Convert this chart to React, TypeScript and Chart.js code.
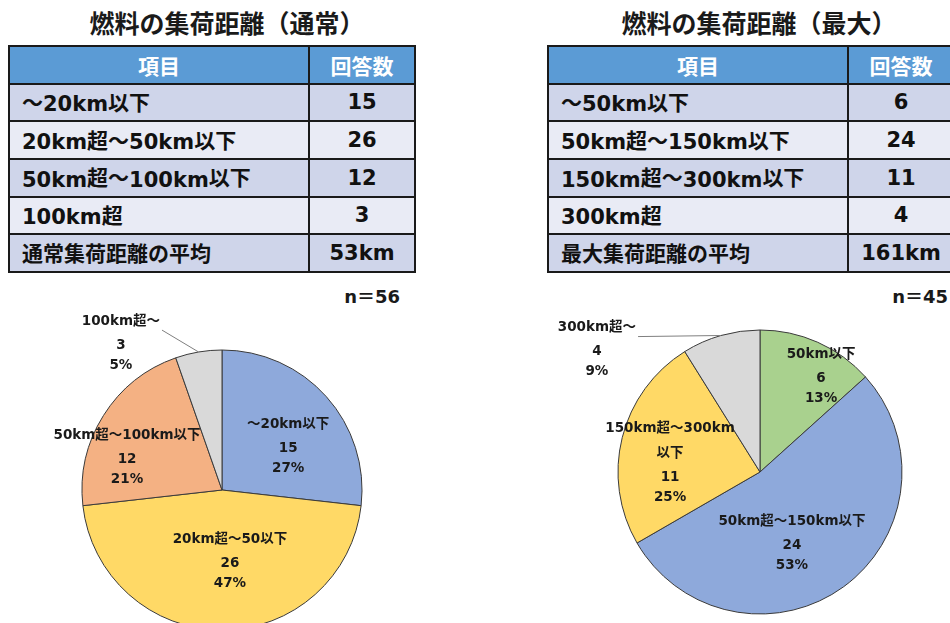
import React, { useEffect, useRef } from 'react';
import { Chart, registerables } from 'chart.js';

Chart.register(...registerables);

const FONT = '"DejaVu Sans", "Noto Sans CJK JP", sans-serif';
const CJK_FONT = '"Noto Sans CJK JP", "Noto Sans", sans-serif';

// ---------- data ----------
const headerItem = '項目';
const headerCount = '回答数';

const normalTitle = '燃料の集荷距離（通常）';
const normalItems = ['～20km以下', '20km超～50km以下', '50km超～100km以下', '100km超'];
const normalCounts = [15, 26, 12, 3];
const normalAvgLabel = '通常集荷距離の平均';
const normalAvg = '53km';
const normalN = 56;
const normalPieNames = [['～20km以下'], ['20km超～50以下'], ['50km超～100km以下'], ['100km超～']];
const normalPct = [27, 47, 21, 5];

const maxTitle = '燃料の集荷距離（最大）';
const maxItems = ['～50km以下', '50km超～150km以下', '150km超～300km以下', '300km超'];
const maxCounts = [6, 24, 11, 4];
const maxAvgLabel = '最大集荷距離の平均';
const maxAvg = '161km';
const maxN = 45;
const maxPieNames = [['50km以下'], ['50km超～150km以下'], ['150km超～300km', '以下'], ['300km超～']];
const maxPct = [13, 53, 25, 9];

// ---------- styles ----------
const normalColors = ['#8EA9DB', '#FFD966', '#F4B183', '#D9D9D9'];
const maxColors = ['#A9D18E', '#8EA9DB', '#FFD966', '#D9D9D9'];

// label placement in polar form: radius factor, angle shift (deg) from slice middle
const normalPlace = [
  { r: 0.564, shift: 8.7 },
  { r: 0.517, shift: -6.3 },
  { r: 0.716, shift: -13.5 },
  { r: 1.274, shift: -24.9, leader: true },
];
const maxPlace = [
  { r: 0.798, shift: 8.6 },
  { r: 0.551, shift: 11.9 },
  { r: 0.637, shift: -8 },
  { r: 1.436, shift: -37.1, leader: true },
];

const pieLabelPlugin = {
  id: 'pieLabels',
  afterDatasetsDraw(chart: any, _args: any, opts: any) {
    const ctx = chart.ctx;
    const meta = chart.getDatasetMeta(0);
    const ds = chart.data.datasets[0];
    ctx.save();
    ctx.font = `bold ${opts.fontSize}px ${FONT}`;
    ctx.fillStyle = '#1a1a1a';
    ctx.textAlign = 'center';
    ctx.textBaseline = 'middle';
    meta.data.forEach((arc: any, i: number) => {
      const p = arc.getProps(['x', 'y', 'startAngle', 'endAngle', 'outerRadius'], true);
      const mid = (p.startAngle + p.endAngle) / 2;
      const pl = opts.place[i];
      const a = mid + (pl.shift * Math.PI) / 180;
      const cx = p.x + Math.cos(a) * p.outerRadius * pl.r;
      const cy = p.y + Math.sin(a) * p.outerRadius * pl.r;
      const names: string[] = opts.names[i];
      const lines = [...names, String(ds.data[i]), opts.pcts[i] + '%'];
      const ys: number[] = [];
      let y = 0;
      names.forEach((_n, k) => {
        ys.push(y);
        y += k < names.length - 1 ? 25 : 24;
      });
      ys.push(y);
      y += 20;
      ys.push(y);
      const off = (ys[0] + ys[ys.length - 1]) / 2;
      lines.forEach((t, k) => ctx.fillText(t, cx, cy + ys[k] - off));
      if (pl.leader) {
        const w = ctx.measureText(names[0]).width;
        ctx.beginPath();
        ctx.strokeStyle = '#7f7f7f';
        ctx.lineWidth = 1;
        ctx.moveTo(p.x + Math.cos(mid) * p.outerRadius, p.y + Math.sin(mid) * p.outerRadius);
        ctx.lineTo(cx + w / 2 + 2, cy + ys[0] - off + 9);
        ctx.stroke();
      }
    });
    ctx.restore();
  },
};

function Pie(props: {
  left: number; top: number; width: number; height: number; radius: number;
  counts: number[]; colors: string[]; names: string[][]; pcts: number[]; place: any[];
}) {
  const ref = useRef<HTMLCanvasElement | null>(null);
  useEffect(() => {
    if (!ref.current) return;
    const chart = new Chart(ref.current, {
      type: 'pie',
      data: {
        labels: props.names.map((n) => n.join('')),
        datasets: [
          {
            data: props.counts,
            backgroundColor: props.colors,
            borderColor: '#3a3a3a',
            borderWidth: 1,
            radius: props.radius,
          } as any,
        ],
      },
      options: {
        responsive: false,
        animation: false,
        layout: { padding: 0 },
        plugins: {
          legend: { display: false },
          tooltip: { enabled: false },
          pieLabels: { fontSize: 13.5, names: props.names, pcts: props.pcts, place: props.place },
        } as any,
      },
      plugins: [pieLabelPlugin],
    });
    return () => chart.destroy();
  }, []);
  return (
    <canvas
      ref={ref}
      width={props.width}
      height={props.height}
      style={{ position: 'absolute', left: props.left, top: props.top, width: props.width, height: props.height }}
    />
  );
}

const CJK_RE = /([\u3000-\u9fff\uff00-\uffef]+)/;
function Txt({ s }: { s: string }) {
  const parts = s.split(CJK_RE).filter((p) => p.length > 0);
  return (
    <span>
      {parts.map((p, i) =>
        CJK_RE.test(p) ? (
          <span key={i} style={{ position: 'relative', top: -1.5 }}>{p}</span>
        ) : (
          <span key={i}>{p}</span>
        ),
      )}
    </span>
  );
}

function Table(props: { left: number; items: string[]; counts: number[]; avgLabel: string; avg: string }) {
  const rows: [string, string][] = [
    ...props.items.map((it, i) => [it, String(props.counts[i])] as [string, string]),
    [props.avgLabel, props.avg],
  ];
  const cellBase: React.CSSProperties = {
    display: 'flex',
    alignItems: 'center',
    fontWeight: 'bold',
    fontSize: 21,
    color: '#111',
    whiteSpace: 'nowrap',
    overflow: 'hidden',
  };
  const cells: React.ReactNode[] = [];
  const head: React.CSSProperties = { ...cellBase, background: '#5B9BD5', color: '#fff', justifyContent: 'center', fontSize: 21, fontFamily: CJK_FONT };
  cells.push(
    <div key="h1" style={head}>{headerItem}</div>,
    <div key="h2" style={head}>{headerCount}</div>,
  );
  rows.forEach(([a, b], i) => {
    const bg = i % 2 === 0 ? '#CFD5EA' : '#E9EBF5';
    cells.push(
      <div key={'a' + i} style={{ ...cellBase, background: bg, paddingLeft: 12 }}><Txt s={a} /></div>,
      <div key={'b' + i} style={{ ...cellBase, background: bg, justifyContent: 'center' }}>{b}</div>,
    );
  });
  return (
    <div
      style={{
        position: 'absolute',
        left: props.left,
        top: 45,
        width: 408,
        height: 228,
        boxSizing: 'border-box',
        padding: 2,
        background: '#1a1a1a',
        display: 'grid',
        gridTemplateColumns: '298px 104px',
        gridTemplateRows: 'repeat(6, 1fr)',
        gap: 2,
      }}
    >
      {cells}
    </div>
  );
}

export default function App() {
  const titleStyle: React.CSSProperties = {
    position: 'absolute',
    top: 9,
    width: 400,
    textAlign: 'center',
    fontSize: 25,
    lineHeight: '27px',
    fontWeight: 'bold',
    color: '#1a1a1a',
    whiteSpace: 'nowrap',
    fontFamily: CJK_FONT,
  };
  const nStyle: React.CSSProperties = {
    position: 'absolute',
    top: 286,
    fontSize: 18,
    lineHeight: '22px',
    fontWeight: 'bold',
    color: '#1a1a1a',
    whiteSpace: 'nowrap',
    textAlign: 'right',
    width: 100,
  };
  return (
    <div
      style={{
        position: 'fixed',
        left: 0,
        top: 0,
        width: 950,
        height: 623,
        overflow: 'hidden',
        background: '#fff',
        fontFamily: FONT,
      }}
    >
      <div style={{ ...titleStyle, left: 27 }}>{normalTitle}</div>
      <div style={{ ...titleStyle, left: 559 }}>{maxTitle}</div>
      <Table left={8} items={normalItems} counts={normalCounts} avgLabel={normalAvgLabel} avg={normalAvg} />
      <Table left={547} items={maxItems} counts={maxCounts} avgLabel={maxAvgLabel} avg={maxAvg} />
      <div style={{ ...nStyle, left: 300 }}>{'n＝' + normalN}</div>
      <div style={{ ...nStyle, left: 848 }}>{'n＝' + maxN}</div>
      <Pie left={12} top={300} width={420} height={380} radius={140}
        counts={normalCounts} colors={normalColors} names={normalPieNames} pcts={normalPct} place={normalPlace} />
      <Pie left={540} top={282} width={440} height={380} radius={142}
        counts={maxCounts} colors={maxColors} names={maxPieNames} pcts={maxPct} place={maxPlace} />
    </div>
  );
}
